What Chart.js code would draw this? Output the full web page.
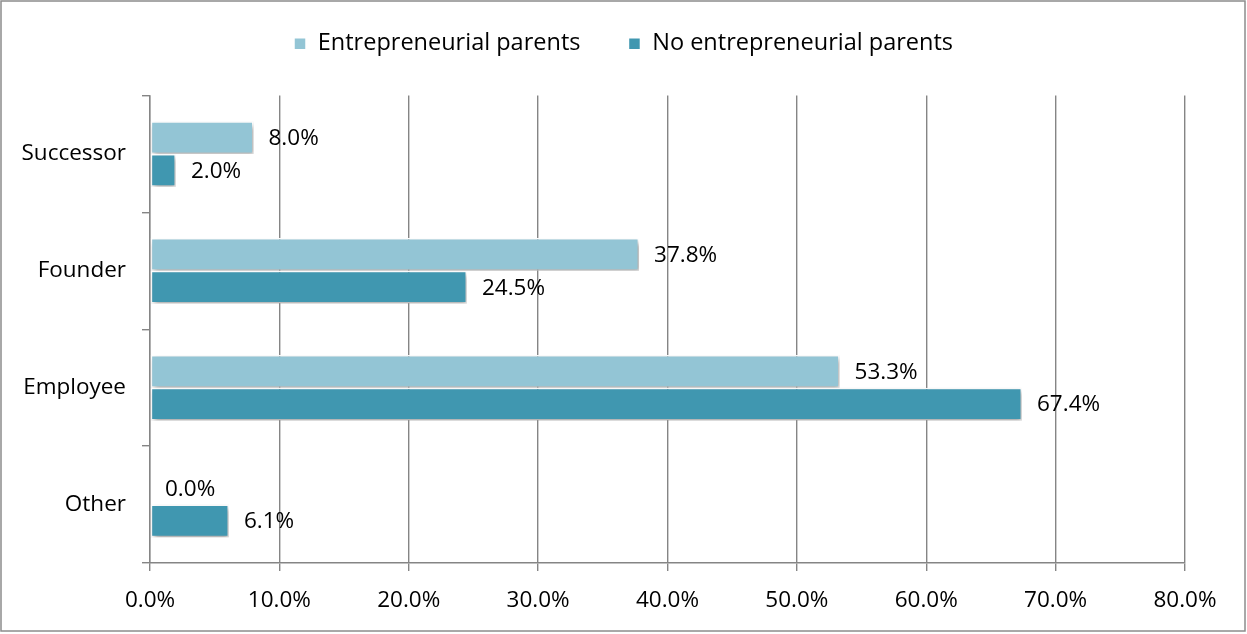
<!DOCTYPE html>
<html>
<head>
<meta charset="utf-8">
<script src="https://cdn.jsdelivr.net/npm/chart.js@4.4.1/dist/chart.umd.min.js"></script>
<style>
  html, body { margin: 0; padding: 0; background: #fff; }
  #wrap { width: 1247px; height: 634px; position: relative; }
</style>
</head>
<body>
<div id="wrap"><canvas id="c" width="1247" height="634"></canvas></div>
<script>
// Career path shares by parental background
const categories = ['Successor', 'Founder', 'Employee', 'Other'];
const entrepreneurialParents = [8.0, 37.8, 53.3, 0.0];
const noEntrepreneurialParents = [2.0, 24.5, 67.4, 6.1];
const xTickValues = [0, 10, 20, 30, 40, 50, 60, 70, 80];

const FONT = '"Open Sans", "Liberation Sans", sans-serif';
const FONT_SIZE = 22.5;
const LEGEND_SIZE = 23.5;
const LIGHT = '#93c5d5';
const DARK = '#4097b0';
const GRID = '#858585';

const fmt = v => v.toFixed(1) + '%';

// Lift the legend row closer to the top edge, leaving the gap above the plot
const legendLift = {
  id: 'legendLift',
  afterLayout(chart) {
    const lg = chart.legend;
    if (lg) {
      lg.top -= 30;
      lg.bottom -= 30;
    }
  }
};

// Soft drop shadow under the bars, value labels beside them, and the outer frame
const barDecor = {
  id: 'barDecor',
  beforeDraw(chart) {
    const ctx = chart.ctx;
    ctx.save();
    ctx.fillStyle = '#fff';
    ctx.fillRect(0, 0, chart.width, chart.height);
    ctx.strokeStyle = '#8c8c8c';
    ctx.lineWidth = 1.5;
    ctx.strokeRect(1, 1, chart.width - 3, chart.height - 4);
    ctx.restore();
  },
  beforeDatasetsDraw(chart) {
    const ctx = chart.ctx;
    ctx.save();
    ctx.shadowColor = 'rgba(0,0,0,0.35)';
    ctx.shadowBlur = 5;
    ctx.shadowOffsetX = 2;
    ctx.shadowOffsetY = 3;
  },
  afterDatasetsDraw(chart) {
    const ctx = chart.ctx;
    ctx.restore();
    ctx.save();
    ctx.font = FONT_SIZE + 'px ' + FONT;
    ctx.fillStyle = '#000';
    ctx.textBaseline = 'middle';
    ctx.textAlign = 'left';
    chart.data.datasets.forEach((ds, i) => {
      const meta = chart.getDatasetMeta(i);
      meta.data.forEach((bar, j) => {
        ctx.fillText(fmt(ds.data[j]), bar.x + 15, bar.y + 1);
      });
    });
    ctx.restore();
  }
};

new Chart(document.getElementById('c'), {
  type: 'bar',
  data: {
    labels: categories,
    datasets: [
      {
        label: 'Entrepreneurial parents',
        data: entrepreneurialParents,
        backgroundColor: LIGHT,
        borderColor: '#ffffff',
        borderWidth: 1.5,
        borderSkipped: false,
        categoryPercentage: 0.56,
        barPercentage: 1.0
      },
      {
        label: 'No entrepreneurial parents',
        data: noEntrepreneurialParents,
        backgroundColor: DARK,
        borderColor: '#ffffff',
        borderWidth: 1.5,
        borderSkipped: false,
        categoryPercentage: 0.56,
        barPercentage: 1.0
      }
    ]
  },
  options: {
    indexAxis: 'y',
    responsive: false,
    animation: false,
    devicePixelRatio: 1,
    layout: { padding: { left: 0, right: 0, top: 14, bottom: 0 } },
    plugins: {
      tooltip: { enabled: false },
      legend: {
        position: 'top',
        labels: {
          font: { family: FONT, size: LEGEND_SIZE },
          color: '#000',
          boxWidth: 12,
          boxHeight: 12,
          padding: 48,
          useBorderRadius: false
        }
      }
    },
    scales: {
      x: {
        min: 0,
        max: 80,
        afterBuildTicks(scale) {
          scale.ticks = xTickValues.map(v => ({ value: v }));
        },
        afterFit(scale) {
          scale.height = 71;
          scale.paddingRight = 62;
        },
        ticks: {
          font: { family: FONT, size: FONT_SIZE },
          color: '#000',
          padding: 16,
          callback: v => fmt(v)
        },
        grid: {
          color: GRID,
          lineWidth: 1.4,
          tickLength: 8,
          drawTicks: true
        },
        border: { color: GRID, width: 1.4 }
      },
      y: {
        afterFit(scale) { scale.width = 150; },
        ticks: {
          font: { family: FONT, size: FONT_SIZE },
          color: '#000',
          padding: 16
        },
        grid: {
          color: GRID,
          lineWidth: 1.4,
          tickLength: 8,
          drawOnChartArea: false,
          offset: true
        },
        border: { color: GRID, width: 1.4 }
      }
    }
  },
  plugins: [legendLift, barDecor]
});
</script>
</body>
</html>
